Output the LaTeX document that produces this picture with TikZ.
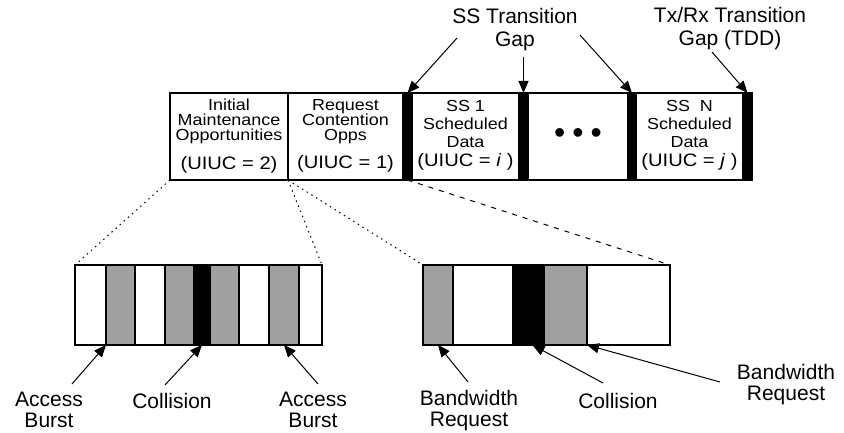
\documentclass[tikz,border=0pt]{standalone}
\usepackage{fontspec}
\setmainfont{Liberation Sans}
\newfontfamily\slotfont{Liberation Sans}[FakeStretch=1.12]
\usetikzlibrary{arrows.meta,positioning}
\definecolor{burstgray}{RGB}{160,160,160}
\newcommand\uiuc[1]{{\fontsize{18}{18}\selectfont(UIUC = #1)}}
\tikzset{
  slot/.style={draw,line width=1.1pt,anchor=north west,inner sep=0pt,outer sep=0pt},
  slottext/.style={font=\slotfont\fontsize{16}{15}\selectfont,align=center,inner sep=0pt},
  sstext/.style={font=\slotfont\fontsize{16}{18}\selectfont,align=center,inner sep=0pt},
  gaplbl/.style={font=\fontsize{21}{23}\selectfont,align=center,inner sep=0pt},
  burstlbl/.style={font=\fontsize{21}{21}\selectfont,align=center,inner sep=0pt},
  arr/.style={-{Triangle[length=12pt,width=10pt]},line width=1pt},
  zoomdot/.style={line width=1pt,dash pattern=on 1.5pt off 4pt},
  zoomdash/.style={line width=1pt,dash pattern=on 5pt off 6pt}
}

\begin{document}
\begin{tikzpicture}[x=1pt,y=-1pt]
\useasboundingbox (0,0) rectangle (844,433);
\foreach \n/\a/\b/\c in {im/170/288/white,rc/288/403/white,g0/403/412/black,s1/412/519/white,
    g1/519/528/black,dt/528/628/white,g2/628/636/black,sn/636/743/white,g3/743/752/black}
  \node[slot,fill=\c,minimum width={(\b-\a)*1pt},minimum height=87pt] (\n) at (\a,93) {};
\node[slottext,below=6pt of im.north] (imtext) {Initial\\Maintenance\\Opportunities\\[11pt]\uiuc{2}};
\node[slottext,below=6pt of rc.north] (rctext) {Request\\Contention\\Opps\\[11pt]\uiuc{1}};
\node[sstext,below=7pt of s1.north] (s1text) {SS 1\\Scheduled\\Data\\[1pt]\uiuc{\textit{i} }};
\node[sstext,below=7pt of sn.north] (sntext) {SS\ \ N\\Scheduled\\Data\\[1pt]\uiuc{\textit{j} }};
\node[font=\fontsize{32}{32}\selectfont,inner sep=0pt] (dots) at (dt.center) {\textbullet\hspace{7pt}\textbullet\hspace{7pt}\textbullet};

\foreach \a/\b/\c [count=\i] in {75/106/white,106/135/burstgray,135/165/white,165/194/burstgray,
    194/210/black,210/239/burstgray,239/269/white,269/299/burstgray,299/322/white}
  \node[slot,fill=\c,minimum width={(\b-\a)*1pt},minimum height=80pt] (l\i) at (\a,265) {};
\foreach \a/\b/\c [count=\i] in {423/453/burstgray,453/513/white,513/544/black,544/587/burstgray,587/670/white}
  \node[slot,fill=\c,minimum width={(\b-\a)*1pt},minimum height=80pt] (r\i) at (\a,265) {};

\draw[zoomdot] (im.south west) -- (l1.north west);
\draw[zoomdot] (im.south east) -- (l9.north east);
\draw[zoomdot] (im.south east) -- (r1.north west);
\draw[zoomdash] (g0.south) -- (r5.north east);

\node[gaplbl] (ssgap) at (515,30) {SS Transition\\Gap};
\node[gaplbl] (tddgap) at (730,29) {Tx/Rx Transition\\Gap (TDD)};
\coordinate (ssgap1) at (457,38);
\coordinate (ssgap2) at (523.5,57);
\coordinate (ssgap3) at (580,35);
\coordinate (tddgap1) at (712,52);
\draw[arr] (ssgap1) -- (g0.north);
\draw[arr] (ssgap2) -- (g1.north);
\draw[arr] (ssgap3) -- (g2.north);
\draw[arr] (tddgap1) -- (g3.north);

\node[burstlbl] (acc1) at (49,410) {Access\\Burst};
\node[burstlbl] (col1) at (172,401) {Collision};
\node[burstlbl] (acc2) at (313,410) {Access\\Burst};
\node[burstlbl] (bwr1) at (469,411) {Bandwidth\\Request};
\node[burstlbl] (col2) at (618,401) {Collision};
\node[burstlbl] (bwr2) at (786,385) {Bandwidth\\Request};
\coordinate (acc1t) at (72,384);
\coordinate (col1t) at (165,385);
\coordinate (acc2t) at (318,384);
\coordinate (bwr1t) at (468,382);
\coordinate (col2t) at (603,383);
\coordinate (bwr2t) at (720,382);
\draw[arr] (acc1t) -- (l1.south east);
\draw[arr] (col1t) -- (l5.south);
\draw[arr] (acc2t) -- (l8.south);
\draw[arr] (bwr1t) -- (r1.south);
\draw[arr] (col2t) -- ([xshift=4pt]r3.south);
\draw[arr] (bwr2t) -- (r5.south west);
\end{tikzpicture}
\end{document}
